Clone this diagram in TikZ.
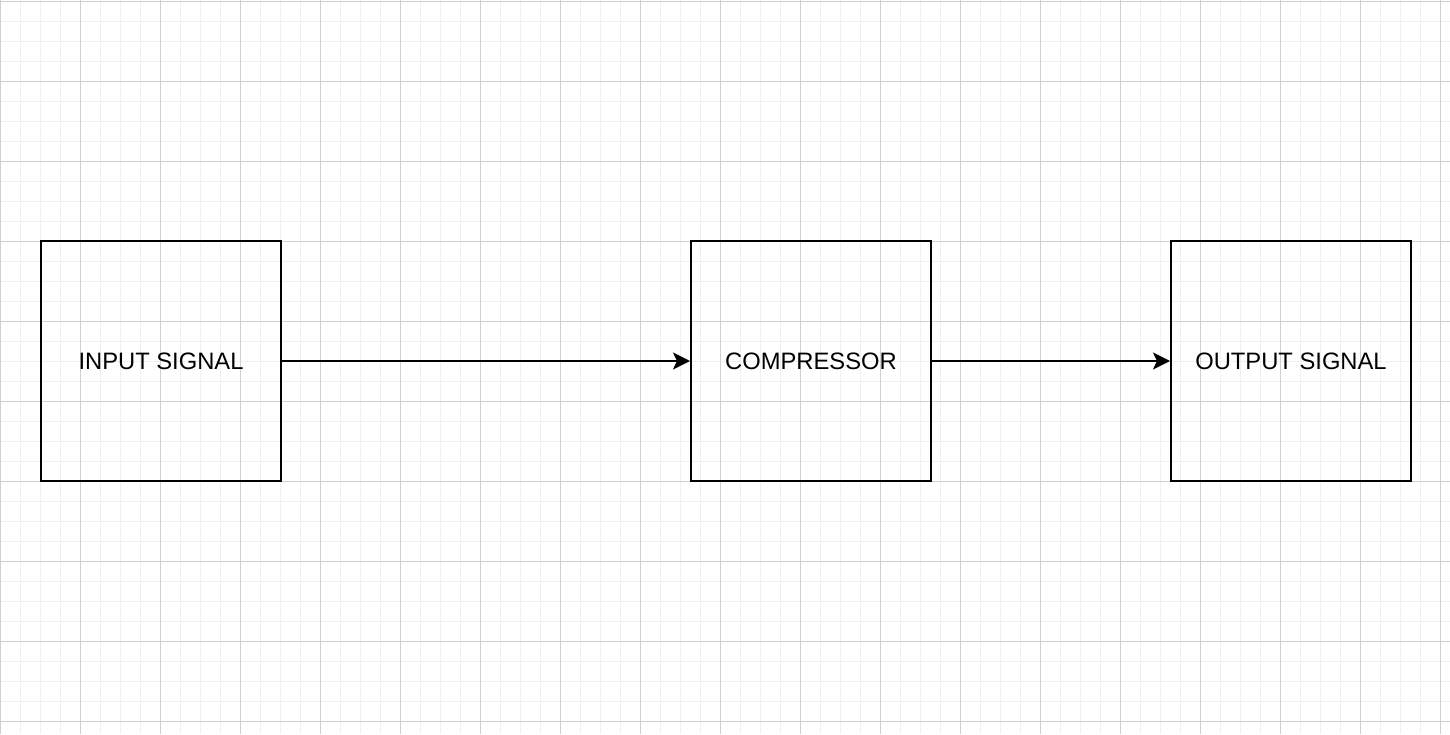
\documentclass[tikz,border=0pt]{standalone}
\usepackage{fontspec}
\setmainfont{Liberation Sans}
\usetikzlibrary{arrows.meta}
\definecolor{gridminor}{HTML}{F0F0F0}
\definecolor{gridmajor}{HTML}{D0D0D0}
\begin{document}
\begin{tikzpicture}[x=1pt,y=1pt]
\tikzstyle{every node}+=[inner sep=0pt]
\tikzstyle{block}=[draw=black, line width=2pt, minimum size=240pt, font=\fontsize{23.75}{28}\selectfont]
\tikzstyle{link}=[black, line width=2pt, -{Stealth[length=17pt,width=17pt,inset=4pt]}]
\useasboundingbox (0,0) rectangle (1450,-734);
\fill [white] (0,0) rectangle (1450,-734);
% grid
\foreach \x in {0,20,...,1440}
  \draw [gridminor, line width=1pt] (\x,0) -- (\x,-734);
\foreach \y in {1,21,...,721}
  \draw [gridminor, line width=1pt] (0,-\y) -- (1450,-\y);
\foreach \x in {0,80,...,1440}
  \draw [gridmajor, line width=1pt] (\x,0) -- (\x,-734);
\foreach \y in {1,81,...,721}
  \draw [gridmajor, line width=1pt] (0,-\y) -- (1450,-\y);
% blocks
\node [block] (input) at (161,-361) {INPUT SIGNAL};
\node [block] (comp) at (811,-361) {COMPRESSOR};
\node [block] (output) at (1291,-361) {OUTPUT SIGNAL};
% signal path
\draw [link] (input) -- (comp);
\draw [link] (comp) -- (output);
\end{tikzpicture}
\end{document}
